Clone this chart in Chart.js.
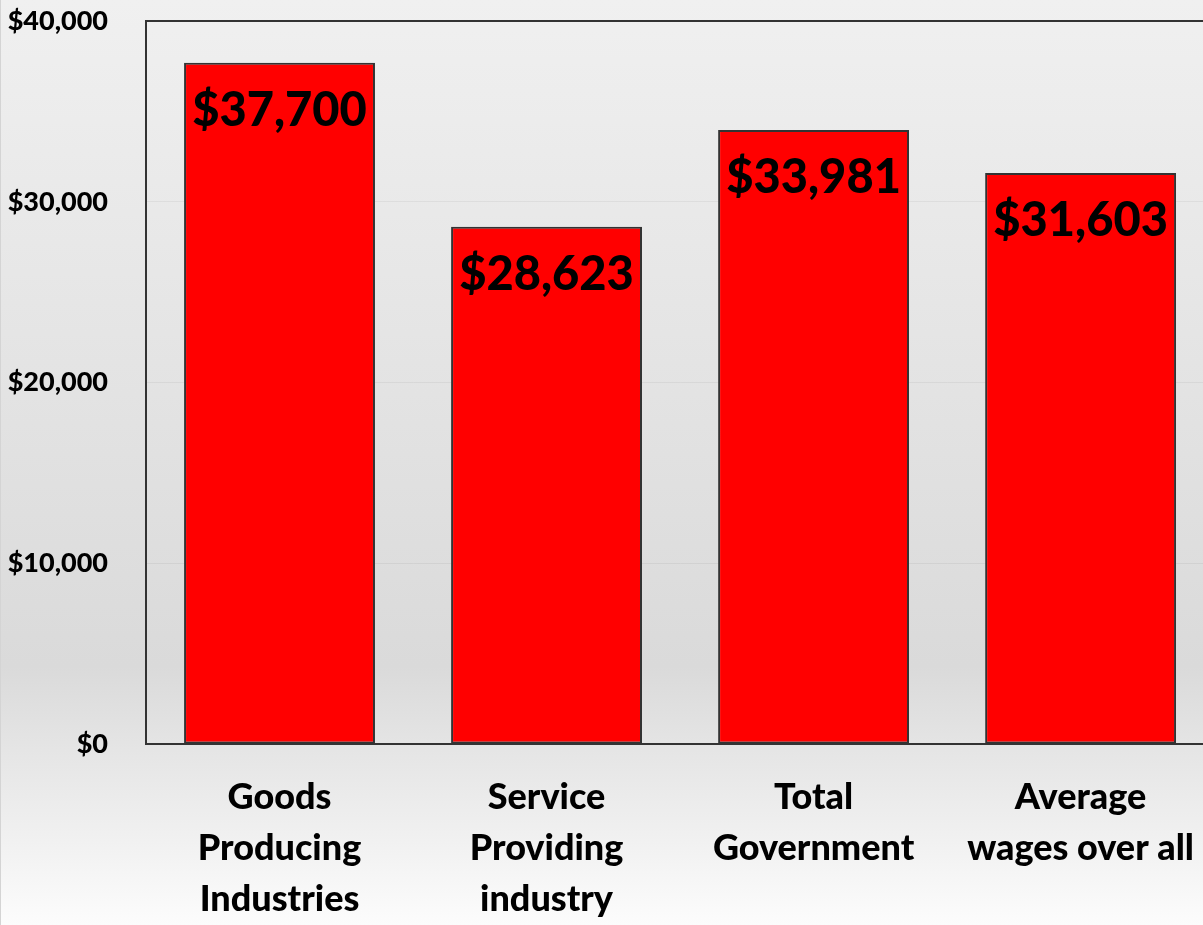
<!DOCTYPE html>
<html>
<head>
<meta charset="utf-8">
<script src="https://cdn.jsdelivr.net/npm/chart.js@4/dist/chart.umd.min.js"></script>
<style>
  html, body { margin: 0; padding: 0; overflow: hidden; }
  body {
    width: 1203px; height: 925px;
    background: linear-gradient(to bottom, #f0f0f0 0%, #dadada 72%, #fcfcfc 100%);
    border-left: 1px solid #d4d4d4;
    box-sizing: border-box;
  }
  #bars { position: absolute; left: 0; top: -33px; }
</style>
</head>
<body>
<canvas id="bars" width="1222" height="958"></canvas>
<script>
// chart data
var categories = [
  ['Goods', 'Producing', 'Industries'],
  ['Service', 'Providing', 'industry'],
  ['Total', 'Government'],
  ['Average', 'wages over all']
];
var wages = [37700, 28623, 33981, 31603];
var yTicks = [0, 10000, 20000, 30000, 40000];

function money(v) {
  return '$' + v.toLocaleString('en-US');
}

// value labels inside the top of each bar
const barLabels = {
  id: 'barLabels',
  afterDatasetsDraw(chart) {
    const ctx = chart.ctx;
    const meta = chart.getDatasetMeta(0);
    ctx.save();
    ctx.font = '900 47px Lato';
    ctx.fillStyle = '#000';
    ctx.textAlign = 'center';
    ctx.textBaseline = 'middle';
    meta.data.forEach((bar, i) => {
      ctx.fillText(money(wages[i]), bar.x, bar.y + 48);
    });
    ctx.restore();
  }
};

const barConfig = {
  type: 'bar',
  data: {
    labels: categories,
    datasets: [
      {
        label: 'Wages',
        backgroundColor: '#ff0000',
        borderColor: '#333333',
        borderWidth: 2,
        borderSkipped: false,
        categoryPercentage: 1,
        barPercentage: 0.715,
        data: wages,
      },
    ],
  },
  options: {
    responsive: false,
    animation: false,
    layout: { padding: 0 },
    plugins: {
      legend: { display: false },
      tooltip: { enabled: false },
    },
    scales: {
      x: {
        grid: { display: false, drawTicks: false },
        border: { display: true, color: '#333333', width: 2 },
        ticks: {
          color: '#000',
          padding: 28,
          maxRotation: 0,
          autoSkip: false,
          font: { family: 'Lato', weight: 900, size: 36, lineHeight: 1.42 },
        },
        afterFit(scale) { scale.height = 181; },
      },
      y: {
        min: 0,
        max: 40000,
        afterBuildTicks(scale) { scale.ticks = yTicks.map(v => ({ value: v })); },
        grid: {
          drawTicks: false,
          color: (c) => c.tick && c.tick.value === 40000 ? '#333333' : 'rgba(0,0,0,0.05)',
          lineWidth: (c) => c.tick && c.tick.value === 40000 ? 2 : 1,
        },
        border: { display: true, color: '#333333', width: 2 },
        ticks: {
          color: '#000',
          padding: 38,
          font: { family: 'Lato', weight: 900, size: 27 },
          callback: (v) => money(v),
        },
        afterFit(scale) { scale.width = 146; },
      },
    },
  },
  plugins: [barLabels],
};

const barsCtx = document.getElementById('bars');
window.myBar = new Chart(barsCtx, barConfig);
</script>
</body>
</html>
